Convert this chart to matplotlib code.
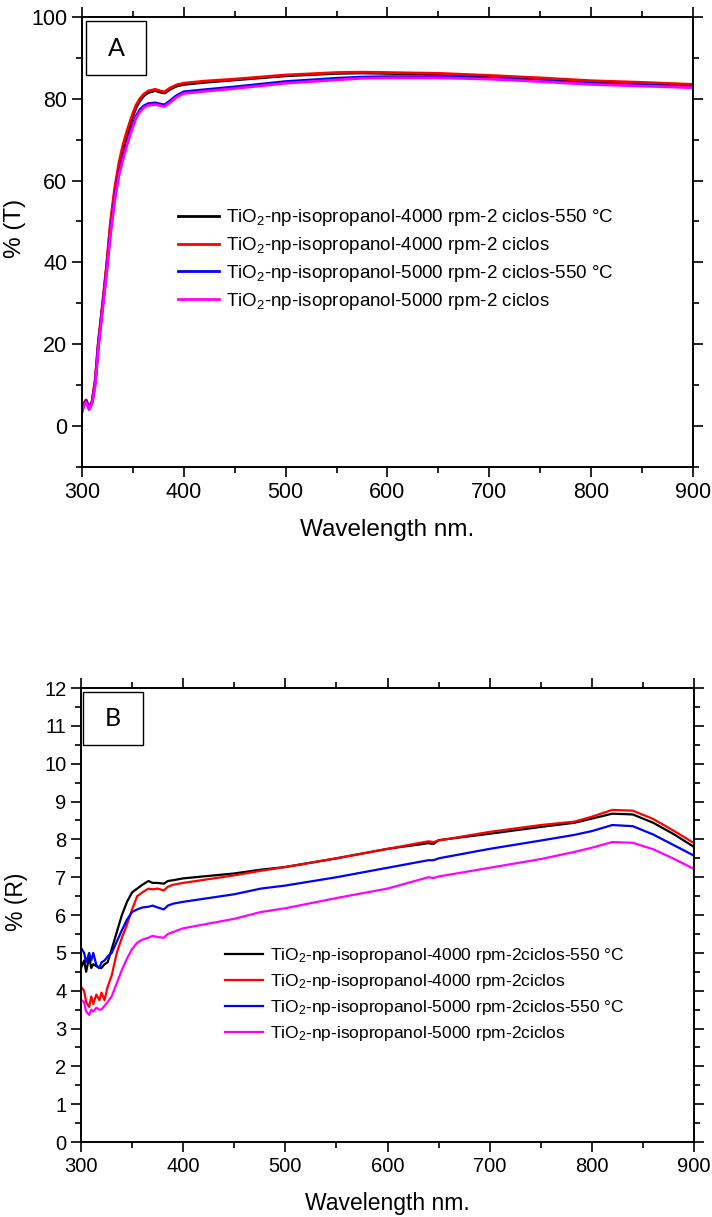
import matplotlib
matplotlib.use("Agg")
import matplotlib.pyplot as plt
from matplotlib.ticker import MultipleLocator
from matplotlib.patches import Rectangle

plt.rcParams['font.family'] = ['Liberation Sans', 'DejaVu Sans']
plt.rcParams['mathtext.fontset'] = 'custom'
plt.rcParams['mathtext.rm'] = 'Liberation Sans'
plt.rcParams['mathtext.it'] = 'Liberation Sans:italic'

colors = ['black', 'red', 'blue', 'magenta']

# --- A: transmittance ---
wl_t = [300, 302, 304, 307, 310, 313, 316, 320, 324, 328, 332, 336, 340, 344,
        347, 350, 353, 357, 361, 365, 372, 377, 381, 387, 393, 400, 420, 450,
        500, 550, 575, 600, 650, 700, 750, 800, 850, 900]
t_4000_550 = [3.8, 5.5, 6.3, 4.4, 6.0, 11, 20, 29, 38.5, 49, 57, 63, 67.5,
              71, 73.5, 75.8, 77.8, 79.6, 80.8, 81.5, 82.0, 81.6, 81.4, 82.4,
              83.1, 83.5, 84.0, 84.6, 85.6, 86.2, 86.3, 86.2, 86.0, 85.5,
              84.9, 84.2, 83.8, 83.3]
t_4000 = [3.9, 5.6, 6.4, 4.5, 6.1, 11.5, 20.5, 29.5, 39, 50, 58, 64, 68.5,
          72, 74.3, 76.5, 78.4, 80.1, 81.2, 81.9, 82.3, 81.9, 81.7, 82.7,
          83.4, 83.8, 84.3, 84.8, 85.8, 86.4, 86.5, 86.4, 86.2, 85.7, 85.1,
          84.4, 84.0, 83.5]
t_5000_550 = [3.6, 5.3, 6.1, 4.2, 5.8, 10.5, 19.5, 28.5, 37.5, 47.5, 55.5,
              61.5, 65.5, 69, 71.5, 73.7, 75.7, 77.4, 78.3, 78.8, 79.0, 78.7,
              78.5, 79.6, 80.8, 81.7, 82.2, 82.9, 84.2, 85.0, 85.3, 85.4, 85.4,
              85.0, 84.4, 83.7, 83.3, 82.9]
t_5000 = [3.4, 5.1, 5.9, 4.0, 5.6, 10, 19, 28, 37, 47, 55, 61, 65, 68.5,
          71, 73.2, 75.2, 76.9, 77.9, 78.4, 78.6, 78.3, 78.1, 79.2, 80.4,
          81.3, 81.8, 82.5, 83.8, 84.6, 85.0, 85.1, 85.1, 84.8, 84.2, 83.5,
          83.1, 82.7]
labels_t = [
    'TiO$_2$-np-isopropanol-4000 rpm-2 ciclos-550 °C',
    'TiO$_2$-np-isopropanol-4000 rpm-2 ciclos',
    'TiO$_2$-np-isopropanol-5000 rpm-2 ciclos-550 °C',
    'TiO$_2$-np-isopropanol-5000 rpm-2 ciclos',
]

# --- B: reflectance ---
wl_r = [300, 303, 305, 308, 310, 312, 315, 318, 320, 323, 326, 330, 335, 340,
        345, 350, 355, 360, 366, 370, 375, 381, 385, 390, 400, 450, 476, 500,
        550, 600, 640, 645, 650, 700, 750, 783, 800, 820, 840, 860, 880, 900]
r_4000_550 = [4.6, 4.8, 4.5, 4.9, 4.6, 4.7, 4.65, 4.6, 4.6, 4.7, 4.75, 5.1,
              5.55, 6.0, 6.35, 6.6, 6.7, 6.8, 6.9, 6.85, 6.85, 6.83, 6.9, 6.92,
              6.97, 7.1, 7.2, 7.27, 7.5, 7.75, 7.9, 7.88, 7.98, 8.15, 8.33,
              8.44, 8.55, 8.68, 8.66, 8.44, 8.14, 7.8]
r_4000 = [4.1, 4.0, 3.7, 3.57, 3.85, 3.65, 3.9, 3.75, 3.95, 3.75, 4.1, 4.4,
          5.0, 5.4, 5.75, 6.15, 6.5, 6.6, 6.7, 6.68, 6.7, 6.65, 6.75, 6.8,
          6.85, 7.05, 7.17, 7.27, 7.5, 7.75, 7.95, 7.93, 7.97, 8.2, 8.38,
          8.47, 8.6, 8.78, 8.76, 8.54, 8.23, 7.9]
r_5000_550 = [5.13, 5.0, 4.75, 5.0, 4.8, 5.0, 4.68, 4.6, 4.75, 4.8, 4.9, 5.0,
              5.3, 5.6, 5.88, 6.08, 6.15, 6.2, 6.22, 6.25, 6.2, 6.15, 6.25,
              6.3, 6.35, 6.55, 6.7, 6.78, 7.0, 7.25, 7.45, 7.45, 7.5, 7.75,
              7.97, 8.12, 8.22, 8.38, 8.35, 8.13, 7.85, 7.57]
r_5000 = [3.76, 3.7, 3.45, 3.36, 3.5, 3.45, 3.55, 3.5, 3.5, 3.6, 3.7, 3.85,
          4.2, 4.55, 4.85, 5.1, 5.27, 5.35, 5.4, 5.45, 5.42, 5.4, 5.5, 5.55,
          5.65, 5.9, 6.08, 6.18, 6.45, 6.7, 7.0, 6.98, 7.02, 7.25, 7.48,
          7.67, 7.78, 7.93, 7.91, 7.74, 7.49, 7.22]
labels_r = [
    'TiO$_2$-np-isopropanol-4000 rpm-2ciclos-550 °C',
    'TiO$_2$-np-isopropanol-4000 rpm-2ciclos',
    'TiO$_2$-np-isopropanol-5000 rpm-2ciclos-550 °C',
    'TiO$_2$-np-isopropanol-5000 rpm-2ciclos',
]

fig = plt.figure(figsize=(7.12, 12.17), dpi=100)
ax1 = fig.add_axes([0.1152, 0.6163, 0.858, 0.3698])
ax2 = fig.add_axes([0.1138, 0.0616, 0.861, 0.373])


def style_axes(ax, ymaj, ymin, fs, xfs):
    ax.set_xlim(300, 900)
    ax.xaxis.set_major_locator(MultipleLocator(100))
    ax.xaxis.set_minor_locator(MultipleLocator(50))
    ax.yaxis.set_major_locator(MultipleLocator(ymaj))
    ax.yaxis.set_minor_locator(MultipleLocator(ymin))
    ax.tick_params(which='both', direction='out', top=True, right=True,
                   width=1.2, labelsize=fs)
    ax.tick_params(which='major', length=7)
    ax.tick_params(which='minor', length=4)
    for s in ax.spines.values():
        s.set_linewidth(1.4)
    ax.set_xlabel('Wavelength nm.', fontsize=xfs, labelpad=12)


def panel_box(ax, letter, x0, y0, w, h):
    ax.add_patch(Rectangle((x0, y0), w, h, transform=ax.transAxes,
                           facecolor='white', edgecolor='black', lw=1.0,
                           zorder=5))
    ax.text(x0 + w / 2, y0 + h / 2, letter, transform=ax.transAxes,
            ha='center', va='center', fontsize=18, family='Lato', zorder=6)


series_t = [t_4000_550, t_4000, t_5000_550, t_5000]
for ys, c, lab in zip(series_t, colors, labels_t):
    ax1.plot(wl_t, ys, color=c, lw=2, label=lab)
style_axes(ax1, 20, 10, 15.5, 17.5)
ax1.set_ylim(-10, 100)
ax1.set_yticks([0, 20, 40, 60, 80, 100])
ax1.set_ylabel('% (T)', fontsize=17.5)
ax1.yaxis.set_label_coords(-0.092, 0.53)
ax1.legend(loc='center left', bbox_to_anchor=(0.157, 0.461),
           frameon=False, fontsize=13.5, borderpad=0, borderaxespad=0,
           handlelength=2.2, handletextpad=0.35, labelspacing=0.36)
panel_box(ax1, 'A', 0.007, 0.87, 0.098, 0.12)

series_r = [r_4000_550, r_4000, r_5000_550, r_5000]
for ys, c, lab in zip(series_r, colors, labels_r):
    ax2.plot(wl_r, ys, color=c, lw=1.6, label=lab)
style_axes(ax2, 1, 0.5, 14.5, 16.5)
ax2.set_ylim(0, 12)
ax2.set_ylabel('% (R)', fontsize=16.5)
ax2.yaxis.set_label_coords(-0.086, 0.53)
ax2.legend(loc='center left', bbox_to_anchor=(0.235, 0.325),
           frameon=False, fontsize=12.5, borderpad=0, borderaxespad=0,
           handlelength=2.2, handletextpad=0.4, labelspacing=0.4)
panel_box(ax2, 'B', 0.003, 0.874, 0.098, 0.118)

fig.savefig('out.png', dpi=100)
